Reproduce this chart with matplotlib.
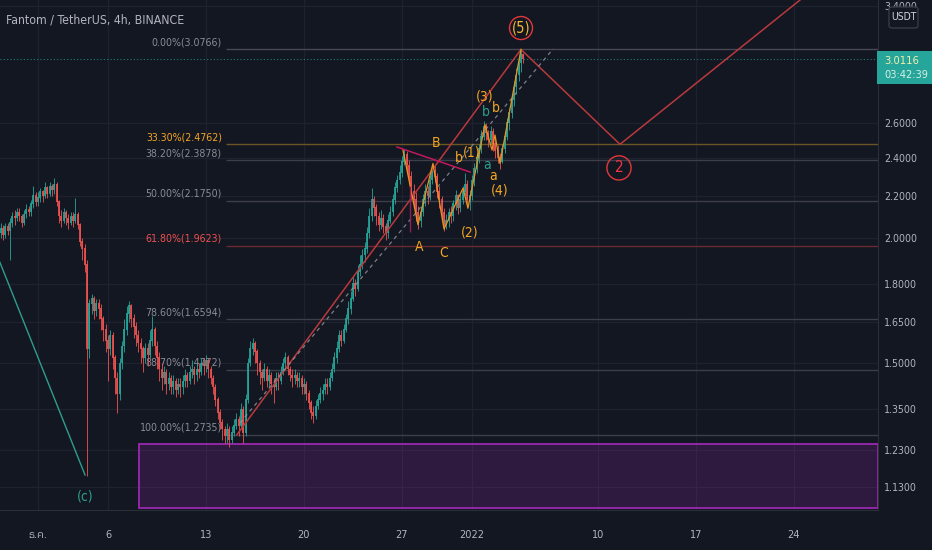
"""Fantom / TetherUS 4h candles with fib retracement and Elliott wave marks."""
import numpy as np
import pandas as pd
import matplotlib
matplotlib.use("Agg")
import matplotlib.pyplot as plt
from matplotlib import font_manager, ft2font
from matplotlib.patches import Rectangle, FancyBboxPatch
from matplotlib.ticker import FixedLocator, NullLocator, FuncFormatter

BG = "#131722"
UP, DOWN = "#26a69a", "#ef5350"
TEXT = "#b2b5be"
ORANGE = "#f5a623"

# 4h candles, one row per day, first candle 2021-11-28 08:00
FIRST_CANDLE = "2021-11-28 08:00"
first_open = 2.02
closes = [
    2.04, 2.01, 2.05, 2.03, 2.07, 2.10,
    2.09, 2.12, 2.10, 2.07, 2.11, 2.13,
    2.12, 2.16, 2.20, 2.17, 2.19, 2.22,
    2.20, 2.24, 2.21, 2.25, 2.23, 2.26,
    2.17, 2.10, 2.08, 2.12, 2.09, 2.07,
    2.10, 2.08, 2.11, 2.06, 1.98, 1.95,
    1.88, 1.55, 1.72, 1.74, 1.69, 1.72,
    1.70, 1.66, 1.62, 1.58, 1.55, 1.60,
    1.52, 1.45, 1.40, 1.50, 1.56, 1.62,
    1.68, 1.71, 1.66, 1.63, 1.60, 1.57,
    1.55, 1.52, 1.55, 1.53, 1.58, 1.62,
    1.56, 1.52, 1.48, 1.45, 1.47, 1.43,
    1.45, 1.42, 1.44, 1.41, 1.43, 1.42,
    1.44, 1.46, 1.44, 1.47, 1.48, 1.46,
    1.48, 1.47, 1.50, 1.49, 1.51, 1.48,
    1.45, 1.42, 1.38, 1.34, 1.31, 1.29,
    1.27, 1.29, 1.26, 1.28, 1.30, 1.32,
    1.30, 1.35, 1.28, 1.38, 1.50, 1.55,
    1.57, 1.54, 1.50, 1.47, 1.45, 1.48,
    1.44, 1.46, 1.43, 1.42, 1.45, 1.44,
    1.47, 1.50, 1.52, 1.48, 1.46, 1.45,
    1.46, 1.44, 1.45, 1.42, 1.43, 1.40,
    1.37, 1.34, 1.33, 1.36, 1.38, 1.40,
    1.41, 1.43, 1.42, 1.45, 1.48, 1.52,
    1.55, 1.60, 1.58, 1.62, 1.66, 1.70,
    1.74, 1.80, 1.78, 1.85, 1.88, 1.92,
    1.95, 2.02, 2.10, 2.18, 2.14, 2.10,
    2.06, 2.09, 2.05, 2.02, 2.08, 2.12,
    2.18, 2.24, 2.28, 2.32, 2.38, 2.42,
    2.36, 2.30, 2.22, 2.18, 2.12, 2.08,
    2.12, 2.18, 2.22, 2.20, 2.28, 2.33,
    2.30, 2.22, 2.18, 2.12, 2.06, 2.08,
    2.12, 2.10, 2.16, 2.20, 2.14, 2.18,
    2.22, 2.26, 2.18, 2.20, 2.28, 2.34,
    2.40, 2.45, 2.52, 2.58, 2.54, 2.50,
    2.55, 2.48, 2.44, 2.40, 2.38, 2.45,
    2.52, 2.60, 2.66, 2.74, 2.82, 2.90,
    2.98, 3.04, 3.0116,
]
highs = [
    2.07, 2.06, 2.07, 2.07, 2.09, 2.12,
    2.13, 2.14, 2.14, 2.11, 2.13, 2.16,
    2.15, 2.18, 2.25, 2.22, 2.22, 2.24,
    2.23, 2.27, 2.25, 2.27, 2.26, 2.29,
    2.27, 2.18, 2.13, 2.14, 2.13, 2.11,
    2.12, 2.12, 2.19, 2.12, 2.07, 2.00,
    1.97, 1.90, 1.74, 1.76, 1.75, 1.74,
    1.74, 1.72, 1.67, 1.64, 1.60, 1.62,
    1.61, 1.53, 1.47, 1.52, 1.58, 1.66,
    1.71, 1.73, 1.72, 1.68, 1.65, 1.62,
    1.59, 1.56, 1.57, 1.57, 1.62, 1.67,
    1.63, 1.58, 1.54, 1.50, 1.49, 1.48,
    1.47, 1.46, 1.46, 1.45, 1.45, 1.45,
    1.46, 1.48, 1.47, 1.49, 1.51, 1.49,
    1.50, 1.50, 1.52, 1.52, 1.53, 1.52,
    1.49, 1.46, 1.43, 1.39, 1.35, 1.32,
    1.30, 1.31, 1.30, 1.30, 1.32, 1.34,
    1.33, 1.37, 1.36, 1.40, 1.52, 1.58,
    1.59, 1.58, 1.55, 1.51, 1.48, 1.50,
    1.49, 1.48, 1.47, 1.45, 1.47, 1.47,
    1.49, 1.52, 1.54, 1.53, 1.49, 1.48,
    1.48, 1.47, 1.47, 1.46, 1.45, 1.44,
    1.41, 1.38, 1.36, 1.38, 1.40, 1.42,
    1.43, 1.45, 1.45, 1.47, 1.50, 1.54,
    1.58, 1.62, 1.62, 1.64, 1.68, 1.73,
    1.77, 1.83, 1.82, 1.88, 1.92, 1.95,
    1.98, 2.05, 2.14, 2.24, 2.20, 2.16,
    2.12, 2.13, 2.11, 2.07, 2.11, 2.15,
    2.21, 2.27, 2.31, 2.36, 2.41, 2.45,
    2.44, 2.39, 2.33, 2.26, 2.22, 2.15,
    2.15, 2.21, 2.26, 2.25, 2.31, 2.36,
    2.36, 2.32, 2.25, 2.20, 2.14, 2.11,
    2.14, 2.15, 2.18, 2.23, 2.21, 2.21,
    2.25, 2.32, 2.28, 2.23, 2.31, 2.37,
    2.43, 2.48, 2.56, 2.61, 2.60, 2.56,
    2.58, 2.57, 2.51, 2.47, 2.43, 2.48,
    2.55, 2.63, 2.69, 2.78, 2.86, 2.95,
    3.02, 3.0766, 3.05,
]
lows = [
    2.00, 1.99, 2.00, 2.01, 1.90, 2.05,
    2.06, 2.08, 2.08, 2.05, 2.06, 2.09,
    2.10, 2.10, 2.14, 2.15, 2.15, 2.17,
    2.17, 2.19, 2.19, 2.20, 2.20, 2.21,
    2.15, 2.07, 2.05, 2.07, 2.06, 2.04,
    2.06, 2.05, 2.07, 2.04, 1.96, 1.90,
    1.85, 1.16, 1.52, 1.68, 1.66, 1.67,
    1.66, 1.62, 1.58, 1.54, 1.44, 1.53,
    1.48, 1.40, 1.34, 1.38, 1.48, 1.54,
    1.60, 1.65, 1.63, 1.59, 1.56, 1.54,
    1.50, 1.47, 1.50, 1.49, 1.52, 1.56,
    1.53, 1.48, 1.44, 1.41, 1.43, 1.40,
    1.41, 1.40, 1.40, 1.39, 1.40, 1.39,
    1.40, 1.42, 1.42, 1.43, 1.45, 1.43,
    1.44, 1.45, 1.46, 1.46, 1.47, 1.45,
    1.43, 1.40, 1.36, 1.32, 1.29, 1.26,
    1.25, 1.25, 1.24, 1.25, 1.27, 1.29,
    1.27, 1.29, 1.25, 1.27, 1.37, 1.49,
    1.53, 1.50, 1.46, 1.43, 1.41, 1.44,
    1.42, 1.42, 1.40, 1.37, 1.41, 1.41,
    1.43, 1.46, 1.48, 1.46, 1.44, 1.42,
    1.43, 1.42, 1.42, 1.40, 1.40, 1.38,
    1.35, 1.32, 1.31, 1.32, 1.35, 1.37,
    1.38, 1.40, 1.40, 1.41, 1.44, 1.47,
    1.50, 1.54, 1.56, 1.57, 1.61, 1.64,
    1.68, 1.73, 1.75, 1.77, 1.83, 1.86,
    1.89, 1.93, 2.00, 2.08, 2.10, 2.06,
    2.03, 2.04, 2.02, 1.99, 2.00, 2.07,
    2.10, 2.16, 2.22, 2.26, 2.30, 2.36,
    2.33, 2.26, 2.18, 2.14, 2.08, 2.04,
    2.05, 2.10, 2.15, 2.16, 2.18, 2.26,
    2.27, 2.19, 2.14, 2.08, 2.03, 2.04,
    2.05, 2.07, 2.08, 2.13, 2.11, 2.12,
    2.16, 2.20, 2.14, 2.13, 2.18, 2.25,
    2.32, 2.37, 2.43, 2.50, 2.50, 2.46,
    2.48, 2.44, 2.40, 2.37, 2.34, 2.37,
    2.43, 2.50, 2.56, 2.63, 2.70, 2.78,
    2.86, 2.92, 2.98,
]

# fib retracement levels
fib_pcts = ["0.00%", "33.30%", "38.20%", "50.00%", "61.80%", "78.60%", "88.70%", "100.00%"]
fib_prices = [3.0766, 2.4762, 2.3878, 2.1750, 1.9623, 1.6594, 1.4772, 1.2735]
fib_text_colors = ["#8a8d96", ORANGE, "#8a8d96", "#8a8d96", "#f0504f", "#8a8d96", "#8a8d96", "#8a8d96"]
fib_line_colors = ["#474a55", "#6e5624", "#3c3f4a", "#3c3f4a", "#6a2a30", "#3c3f4a", "#3c3f4a", "#3c3f4a"]
fib_start_day = 13.43

# drawings (days since 2021-12-01, price)
wave_c_days, wave_c_prices = [-2.72, 3.36], [1.89, 1.162]
proj_days = [14.2, 34.5, 41.57, 54.43]
proj_prices = [1.2735, 3.0766, 2.4762, 3.445]
trend_days, trend_prices = [14.43, 36.79], [1.309, 3.08]
zig_days = [26.07, 27.14, 28.21, 29.0, 30.36, 30.71, 31.93, 32.43, 32.64, 33.0, 34.5]
zig_prices = [2.444, 2.06, 2.37, 2.04, 2.24, 2.14, 2.59, 2.444, 2.53, 2.37, 3.0766]
tri_days, tri_prices = [25.64, 30.86], [2.461, 2.324]
zone_days = [7.21, 60.0]
zone_prices = [1.0775, 1.247]
last_price = 3.0116

wave_text = ["B", "A", "C", "b", "(1)", "(2)", "(3)", "b", "b", "a", "a", "(4)", "(c)"]
wave_days = [28.43, 27.21, 29.0, 30.07, 30.95, 30.8, 31.93, 32.0, 32.72, 32.07, 32.5, 33.0, 3.36]
wave_prices = [2.484, 1.958, 1.931, 2.40, 2.433, 2.026, 2.765, 2.668, 2.69, 2.362, 2.303, 2.23, 1.105]
wave_colors = [ORANGE, ORANGE, ORANGE, ORANGE, ORANGE, ORANGE, ORANGE, "#2e9e8c", ORANGE,
               "#2e9e8c", ORANGE, ORANGE, "#2e9e8c"]

price_ticks = [1.13, 1.23, 1.35, 1.5, 1.65, 1.8, 2.0, 2.2, 2.4, 2.6, 3.4]
day_ticks = [0, 5, 12, 19, 26, 31, 40, 47, 54]
day_labels = ["ธ.ค.", "6", "13", "20", "27", "2022", "10", "17", "24"]


def _pick_fonts():
    """Pick a narrow sans for TradingView-like text and a family with Thai glyphs."""
    entries = font_manager.fontManager.ttflist
    narrow = [f for f in entries if f.stretch in ("condensed", "semi-condensed")
              or "Narrow" in f.name or "Condensed" in f.name]
    base, stretch = "Roboto", "normal"
    for wanted in ["Liberation Sans Narrow", "DejaVu Sans", "Roboto", "Noto Sans", "Open Sans"]:
        hit = [f for f in narrow if f.name == wanted]
        if hit:
            base, stretch = wanted, hit[0].stretch
            break
    else:
        if narrow:
            base, stretch = narrow[0].name, narrow[0].stretch
    thai = None
    for f in sorted(entries, key=lambda f: "Thai" not in f.name):
        try:
            if 0x0E18 in ft2font.FT2Font(f.fname).get_charmap():
                thai = f.name
                break
        except Exception:
            continue
    families = [base] + ([thai] if thai and thai != base else []) + ["DejaVu Sans"]
    return families, stretch


FONT, STRETCH = _pick_fonts()
plt.rcParams["font.family"] = FONT
plt.rcParams["font.stretch"] = STRETCH

W, H = 932, 550
fig = plt.figure(figsize=(W / 100, H / 100), dpi=100, facecolor=BG)
ax = fig.add_axes([0, 40 / H, 878 / W, 510 / H], facecolor=BG)
ax.set_yscale("log")
ax.set_xlim(-2.714, 60.0)
ax.set_ylim(1.0725, 3.445)

# grid and axes
ax.yaxis.set_major_locator(FixedLocator(price_ticks))
ax.yaxis.set_minor_locator(NullLocator())
ax.yaxis.set_major_formatter(FuncFormatter(lambda v, _: f"{v:.4f}"))
ax.set_xticks(day_ticks, day_labels)
ax.yaxis.tick_right()
ax.tick_params(axis="y", length=0, pad=4.5, labelsize=7.6, labelcolor=TEXT)
ax.tick_params(axis="x", length=0, pad=14.5, labelsize=7.8, labelcolor=TEXT)
ax.grid(True, color="#1e2230", linewidth=0.9, zorder=0)
ax.set_axisbelow(True)
for side in ["top", "left"]:
    ax.spines[side].set_visible(False)
for side in ["right", "bottom"]:
    ax.spines[side].set_color("#2a2e39")

# supply zone
ax.add_patch(Rectangle((zone_days[0], zone_prices[0]), zone_days[1] - zone_days[0],
                       zone_prices[1] - zone_prices[0], facecolor=(156 / 255, 39 / 255, 176 / 255, 0.2),
                       edgecolor="#9c27b0", linewidth=1.3, zorder=1))

# fib levels
for pct, price, tcol, lcol in zip(fib_pcts, fib_prices, fib_text_colors, fib_line_colors):
    ax.hlines(price, fib_start_day, 60.0, color=lcol, linewidth=1.0, zorder=1)
    ax.annotate(f"{pct}({price:.4f})", (fib_start_day, price), xytext=(-3, 1.5),
                textcoords="offset points", ha="right", va="bottom", fontsize=7.6,
                color=tcol, zorder=2)

# candles
times = pd.date_range(FIRST_CANDLE, periods=len(closes), freq="4h")
days = ((times - pd.Timestamp("2021-12-01")) / pd.Timedelta(days=1)).to_numpy()
c = np.array(closes)
o = np.r_[first_open, c[:-1]]
hi = np.maximum(np.array(highs), np.maximum(o, c))
lo = np.minimum(np.array(lows), np.minimum(o, c))
col = np.where(c >= o, UP, DOWN)
ax.vlines(days, lo, hi, colors=col, linewidth=0.6, zorder=3)
ax.vlines(days, np.minimum(o, c), np.maximum(o, c) * 1.0015, colors=col, linewidth=1.25, zorder=3)

# last price line
ax.axhline(last_price, color=UP, linewidth=0.8, linestyle=(0, (1, 2)), alpha=0.7, zorder=2)

# wave drawings
ax.plot(wave_c_days, wave_c_prices, color="#2e9e8c", linewidth=1.0, zorder=4)
ax.plot(proj_days, proj_prices, color="#b9393c", linewidth=1.1, zorder=4)
ax.plot(trend_days, trend_prices, color="#9598a1", linewidth=0.9, linestyle=(0, (3, 3)), alpha=0.8, zorder=4)
ax.plot(zig_days, zig_prices, color="#e8941f", linewidth=0.9, zorder=4)
ax.plot(tri_days, tri_prices, color="#c2185b", linewidth=1.1, zorder=4)
ax.vlines(26.57, 2.025, 2.25, color="#8e1f5c", linewidth=1.0, zorder=4)

for text, d, p, colr in zip(wave_text, wave_days, wave_prices, wave_colors):
    ax.text(d, p, text, color=colr, fontsize=10, ha="center", va="center", zorder=5)

ax.text(34.5, 3.231, "(5)", color="#f7b733", fontsize=10.5, ha="center", va="center", zorder=5,
        bbox=dict(boxstyle="circle,pad=0.15", facecolor="none", edgecolor="#e0383b", linewidth=1.0))
ax.text(41.5, 2.346, "2", color="#f23645", fontsize=11, ha="center", va="center", zorder=5,
        bbox=dict(boxstyle="circle,pad=0.3", facecolor="none", edgecolor="#e0383b", linewidth=1.0))

# header and price scale extras
fig.text(6 / W, 1 - 20 / H, "Fantom / TetherUS, 4h, BINANCE", color=TEXT, fontsize=8.8, va="center")
fig.patches.append(FancyBboxPatch((889 / W, 1 - 28 / H), 29 / W, 21 / H, transform=fig.transFigure,
                                  boxstyle="round,pad=0,rounding_size=0.004", facecolor=BG,
                                  edgecolor="#3a3e4a", linewidth=0.9, zorder=3))
fig.text(903.5 / W, 1 - 17.5 / H, "USDT", color="#d1d4dc", fontsize=7.5, ha="center", va="center", zorder=4)
fig.patches.append(Rectangle((877 / W, 1 - 84 / H), 55 / W, 33 / H, transform=fig.transFigure,
                             facecolor="#26a69a", edgecolor="none", zorder=3))
fig.text(884 / W, 1 - 61 / H, f"{last_price:.4f}", color="#f3eeb0", fontsize=8.0, va="center", zorder=4)
fig.text(884 / W, 1 - 75 / H, "03:42:39", color="#d9efe6", fontsize=7.8, va="center", zorder=4)

fig.savefig("out.png", dpi=100, facecolor=BG)
